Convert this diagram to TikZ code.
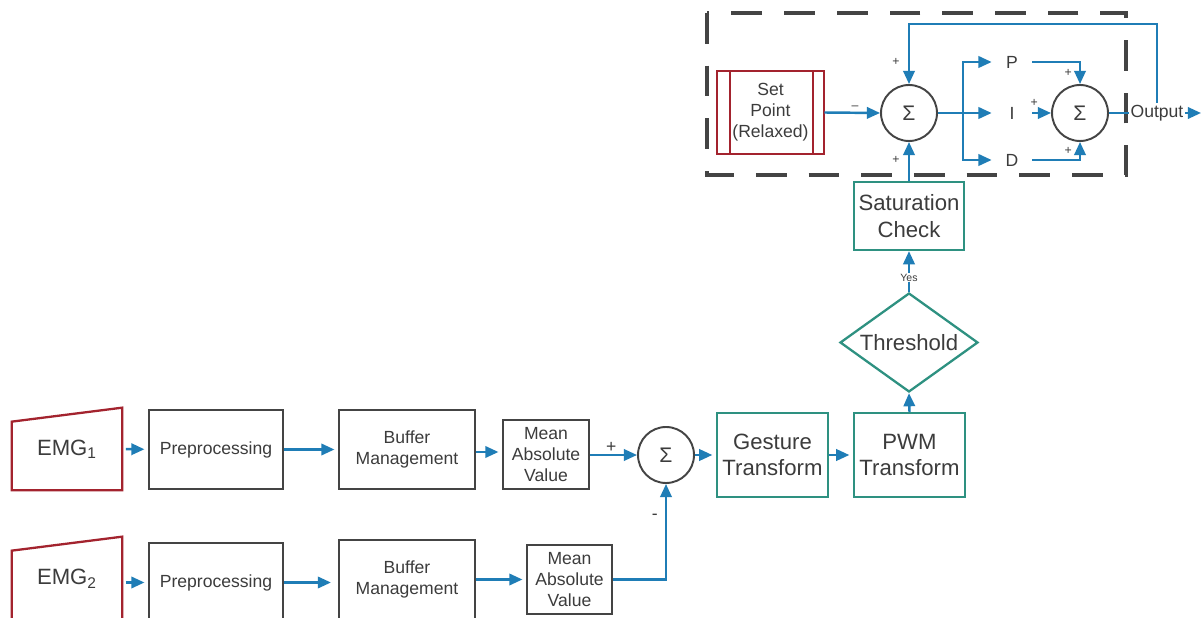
\documentclass[tikz,border=0pt]{standalone}
\usepackage{fontspec}
\setmainfont{Liberation Sans}
\usetikzlibrary{arrows.meta,positioning,shapes.geometric,calc}
\definecolor{ink}{HTML}{3C3C3C}
\definecolor{frame}{HTML}{444444}
\definecolor{flow}{HTML}{1F7DB6}
\definecolor{sensor}{HTML}{A3232E}
\definecolor{stage}{HTML}{2E9181}

\begin{document}
\begin{tikzpicture}[x=0.02cm,y=-0.02cm,
    every node/.style={text=ink, font=\fontsize{10}{12}\selectfont},
    block/.style={draw=frame, line width=1.2pt, align=center, inner sep=1pt},
    tealbox/.style={draw=stage, line width=1.3pt, align=center, inner sep=1pt, font=\fontsize{12.6}{15}\selectfont},
    sumnode/.style={circle, draw=frame, line width=1.1pt, minimum size=1.12cm, inner sep=0pt, font=\fontsize{12}{14}\selectfont},
    sign/.style={font=\fontsize{7}{8}\selectfont, inner sep=1pt},
    bigsign/.style={font=\fontsize{10}{12}\selectfont, inner sep=1pt},
    link/.style={draw=flow, line width=1.4pt, -{Triangle[length=7.5pt,width=6.5pt]}},
    wire/.style={draw=flow, line width=1.4pt}]
  \clip (0,0) rectangle (1201,618);
  \fill[white] (0,0) rectangle (1201,618);

  % input channels
  \node[minimum width=2.2cm, minimum height=1.64cm, font=\fontsize{12.6}{15}\selectfont] (emg1) at (67,449) {EMG\textsubscript{1}};
  \node[minimum width=2.2cm, minimum height=1.66cm, font=\fontsize{12.6}{15}\selectfont] (emg2) at (67,578.5) {EMG\textsubscript{2}};
  \foreach \e in {emg1,emg2}
    \draw[sensor, line width=1.3pt] (\e.south west) -- (\e.south east) -- (\e.north east) -- ($(\e.north west)+(0,14)$) -- cycle;

  \node[block, minimum width=2.68cm, minimum height=1.58cm] (prep1) at (216,449.5) {Preprocessing};
  \node[block, minimum width=2.68cm, minimum height=1.58cm] (prep2) at (216,582.5) {Preprocessing};
  \node[block, minimum width=2.72cm, minimum height=1.58cm] (buf1) at (407,449.5) {Buffer\\Management};
  \node[block, minimum width=2.72cm, minimum height=1.58cm] (buf2) at (407,579.5) {Buffer\\Management};
  \node[block, minimum width=1.72cm, minimum height=1.38cm] (mav1) at (546,454.5) {Mean\\Absolute\\Value};
  \node[block, minimum width=1.70cm, minimum height=1.38cm] (mav2) at (569.5,579.5) {Mean\\Absolute\\Value};
  \node[sumnode] (sum1) at (666,455) {Σ};

  % gesture chain
  \node[tealbox, minimum width=2.22cm, minimum height=1.68cm] (gest) at (772.5,455) {Gesture\\Transform};
  \node[tealbox, minimum width=2.22cm, minimum height=1.68cm] (pwm) at (909.5,455) {PWM\\Transform};
  \node[diamond, draw=stage, line width=1.3pt, aspect=1.4, inner sep=0pt, minimum width=2.76cm, minimum height=1.98cm,
        font=\fontsize{12.6}{15}\selectfont] (thr) at (909,342.5) {Threshold};
  \node[tealbox, minimum width=2.2cm, minimum height=1.36cm] (sat) at (909,216) {Saturation\\Check};

  % PID controller
  \draw[frame, line width=2.3pt, dash pattern=on 17.5pt off 12.5pt] (707,13) rectangle (1126,175);
  \node[minimum width=2.14cm, minimum height=1.66cm, align=center, inner sep=0pt] (setp) at (770.5,112.5) {Set\\Point\\(Relaxed)};
  \draw[sensor, line width=1.3pt] (setp.south west) rectangle (setp.north east);
  \draw[sensor, line width=1.3pt] ($(setp.north west)+(13,0)$) -- ($(setp.south west)+(13,0)$);
  \draw[sensor, line width=1.3pt] ($(setp.north east)+(-11,0)$) -- ($(setp.south east)+(-11,0)$);
  \node[sumnode] (sum2) at (909,113) {Σ};
  \node[minimum width=0.8cm, inner sep=0pt] (P) at (1012,62) {P};
  \node[minimum width=0.8cm, inner sep=0pt] (I) at (1012,113) {I};
  \node[minimum width=0.8cm, inner sep=0pt] (D) at (1012,160) {D};
  \node[sumnode] (sum3) at (1080,113) {Σ};
  \node[inner sep=1pt, fill=white] (out) at (1157,113) {Output};
  \coordinate (br) at (963,113);
  \coordinate (edge) at (1201,113);

  % connectors
  \draw[link, shorten <=2pt, shorten >=2pt] (emg1) -- (prep1);
  \draw[link, shorten <=2pt, shorten >=2pt] (emg2.east |- prep2) -- (prep2);
  \draw[link, shorten >=2pt] (prep1) -- (buf1);
  \draw[link, shorten >=4pt] (prep2.east) -- (prep2.east -| buf2.west);
  \draw[link, shorten >=2pt] (buf1.east |- 0,452) -- (mav1.west |- 0,452);
  \draw[link, shorten >=2pt] (buf2.east |- mav2) -- (mav2);
  \draw[link] (mav1.east |- sum1) -- node[bigsign, above, pos=0.45] {+} (sum1);
  \draw[link] (mav2.east) -| node[bigsign, pos=0.83, left=3pt] {-} (sum1.south);
  \draw[link, shorten >=2pt] (sum1) -- (gest);
  \draw[link, shorten >=2pt] (gest) -- (pwm);
  \draw[link] (pwm.north) -- (thr.south);
  \draw[link] (thr.north) -- node[fill=white, inner sep=0.5pt, font=\fontsize{6}{7}\selectfont, pos=0.35] {Yes} (sat.south);
  \draw[link] (sat.north) -- (sum2.south);
  \node[sign] at (896,160) {+};
  \draw[link] (setp.east) -- node[sign, above, pos=0.55] {–} (sum2.west);
  \draw[link] (out.north) -- (out.north |- 0,24) -| (sum2.north);
  \node[sign] at (896,62) {+};
  \draw[wire] (sum2.east) -- (br);
  \draw[link] (br) -- (I.west);
  \draw[link] (br) |- (P.west);
  \draw[link] (br) |- (D.west);
  \draw[link] (P.east) -| node[sign, pos=0.75, left=3pt] {+} (sum3.north);
  \draw[link] (I.east) -- node[sign, above=2pt, pos=0.1] {+} (sum3.west);
  \draw[link] (D.east) -| node[sign, pos=0.75, left=3pt] {+} (sum3.south);
  \draw[wire] (sum3.east) -- (out.west);
  \draw[link] (out.east) -- (edge);
\end{tikzpicture}
\end{document}
